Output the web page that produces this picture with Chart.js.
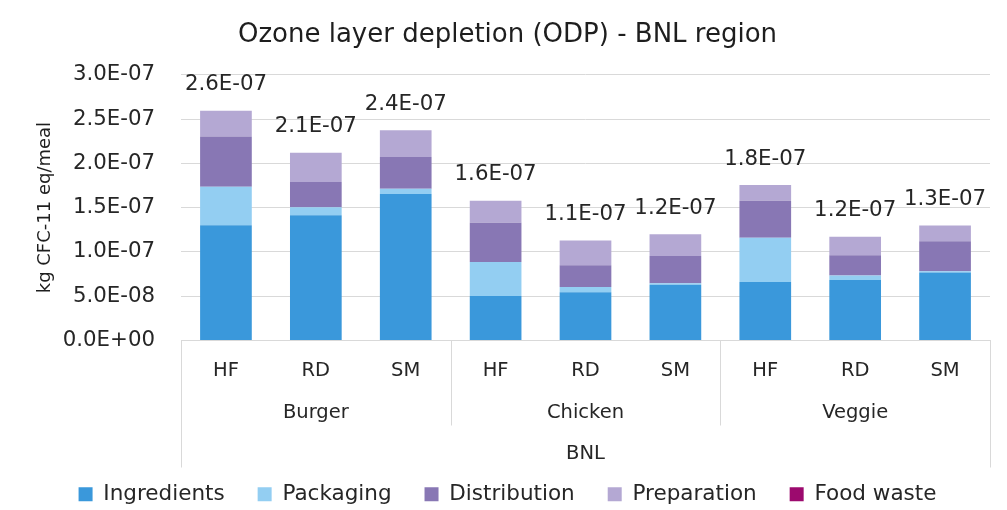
<!DOCTYPE html>
<html>
<head>
<meta charset="utf-8">
<script src="https://cdn.jsdelivr.net/npm/chart.js@4/dist/chart.umd.min.js"></script>
<style>
  body { margin: 0; background: #fff; }
</style>
</head>
<body>
<canvas id="chart" width="1007" height="510"></canvas>
<script>
const region = 'BNL';
const dishes = ['Burger', 'Chicken', 'Veggie'];
const methods = ['HF', 'RD', 'SM'];

// kg CFC-11 eq/meal, one value per bar (Burger HF..SM, Chicken HF..SM, Veggie HF..SM)
const ingredients  = [1.30e-7, 1.415e-7, 1.653e-7, 0.502e-7, 0.544e-7, 0.63e-7, 0.66e-7, 0.683e-7, 0.767e-7];
const packaging    = [0.436e-7, 0.09e-7, 0.06e-7, 0.385e-7, 0.06e-7, 0.015e-7, 0.499e-7, 0.05e-7, 0.014e-7];
const distribution = [0.566e-7, 0.283e-7, 0.359e-7, 0.441e-7, 0.245e-7, 0.31e-7, 0.419e-7, 0.23e-7, 0.34e-7];
const preparation  = [0.29e-7, 0.33e-7, 0.30e-7, 0.25e-7, 0.28e-7, 0.245e-7, 0.177e-7, 0.207e-7, 0.178e-7];
const foodWaste    = [0, 0, 0, 0, 0, 0, 0, 0, 0];

const FONT = 'DejaVu Sans';
const LINE_H = 42;

// "2.6E-07" style
function sci(v) {
    const parts = v.toExponential(1).split('e');
    const exp = parseInt(parts[1], 10);
    return parts[0] + 'E' + (exp < 0 ? '-' : '+') + String(Math.abs(exp)).padStart(2, '0');
}

// two-level category labels: method / dish (region goes in the axis title)
const labels = [];
dishes.forEach(d => {
    methods.forEach((m, mi) => labels.push([m, mi === 1 ? d : '']));
});

const totalsPlugin = {
    id: 'totals',
    afterDatasetsDraw(chart) {
        const ctx = chart.ctx;
        const x = chart.scales.x, y = chart.scales.y;
        ctx.save();
        ctx.font = '21.3px ' + FONT;
        ctx.fillStyle = '#262626';
        ctx.textAlign = 'center';
        ctx.textBaseline = 'middle';
        labels.forEach((l, i) => {
            let total = 0;
            chart.data.datasets.forEach(ds => total += ds.data[i]);
            ctx.fillText(sci(total), x.getPixelForValue(i), y.getPixelForValue(total) - 26);
        });
        ctx.restore();
    }
};

const separatorPlugin = {
    id: 'separators',
    afterDraw(chart) {
        const ctx = chart.ctx;
        const x = chart.scales.x;
        const area = chart.chartArea;
        const top = area.bottom;
        const pad = x.options.ticks.padding;
        ctx.save();
        ctx.strokeStyle = '#d9d9d9';
        ctx.lineWidth = 1;
        const line = (px, bottom) => {
            ctx.beginPath();
            ctx.moveTo(Math.round(px) + 0.5, top);
            ctx.lineTo(Math.round(px) + 0.5, bottom);
            ctx.stroke();
        };
        line(area.left, top + pad + 3 * LINE_H);
        line(area.right, top + pad + 3 * LINE_H);
        for (let g = 1; g < dishes.length; g++) {
            const i = g * methods.length;
            const px = (x.getPixelForValue(i - 1) + x.getPixelForValue(i)) / 2;
            line(px, top + pad + 2 * LINE_H);
        }
        ctx.restore();
    }
};

const ctx = document.getElementById('chart').getContext('2d');
new Chart(ctx, {
    type: 'bar',
    data: {
        labels: labels,
        datasets: [
            { label: 'Ingredients', data: ingredients, backgroundColor: '#3a98db' },
            { label: 'Packaging', data: packaging, backgroundColor: '#93cef2' },
            { label: 'Distribution', data: distribution, backgroundColor: '#8877b4' },
            { label: 'Preparation', data: preparation, backgroundColor: '#b4a8d3' },
            { label: 'Food waste', data: foodWaste, backgroundColor: '#9c0a6e' }
        ]
    },
    options: {
        responsive: false,
        animation: false,
        devicePixelRatio: 1,
        layout: { padding: { left: 25, right: 17, top: 0, bottom: -5 } },
        datasets: { bar: { categoryPercentage: 1, barPercentage: 0.575, borderWidth: 0 } },
        plugins: {
            title: {
                display: true,
                text: 'Ozone layer depletion (ODP) - BNL region',
                color: '#1e1e1e',
                font: { family: FONT, size: 26, weight: 'normal', lineHeight: 1.2 },
                padding: { top: 19.5, bottom: 24 }
            },
            legend: {
                position: 'bottom',
                labels: {
                    color: '#262626',
                    font: { family: FONT, size: 21.5 },
                    boxWidth: 14,
                    boxHeight: 14,
                    padding: 33
                }
            },
            tooltip: { enabled: false }
        },
        scales: {
            x: {
                stacked: true,
                grid: { display: false },
                border: { color: '#d9d9d9', width: 1 },
                afterFit(scale) { scale.height = 110; },
                title: {
                    display: true,
                    text: region,
                    color: '#262626',
                    font: { family: FONT, size: 19.5, lineHeight: '24px' },
                    padding: { top: 0, bottom: -15 }
                },
                ticks: {
                    color: '#262626',
                    padding: 1,
                    maxRotation: 0,
                    autoSkip: false,
                    font: { family: FONT, size: 19.5, lineHeight: LINE_H + 'px' }
                }
            },
            y: {
                stacked: true,
                min: 0,
                max: 3e-7,
                afterFit(scale) { scale.width = 156; },
                grid: { color: '#d9d9d9', drawTicks: false },
                border: { display: false },
                title: {
                    display: true,
                    text: 'kg CFC-11 eq/meal',
                    color: '#1e1e1e',
                    font: { family: FONT, size: 18 },
                    padding: { top: 10, bottom: 0 }
                },
                ticks: {
                    stepSize: 5e-8,
                    padding: 26,
                    color: '#262626',
                    font: { family: FONT, size: 21.3 },
                    callback: v => sci(v)
                }
            }
        }
    },
    plugins: [totalsPlugin, separatorPlugin]
});
</script>
</body>
</html>
